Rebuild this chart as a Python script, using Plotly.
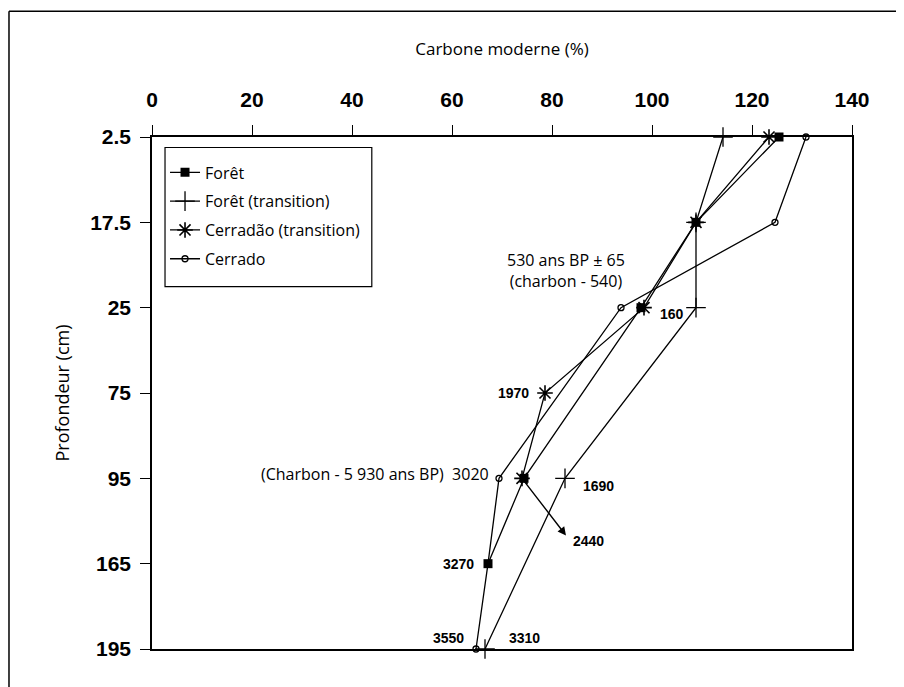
import plotly.graph_objects as go

# ---------------- data ----------------
depth_labels = ["2.5", "17.5", "25", "75", "95", "165", "195"]
depth_idx = list(range(len(depth_labels)))

foret = [125.4, 108.8, 97.8, None, 74.4, 67.2, None]
foret_transition = [114.2, 108.8, 108.8, None, 82.6, None, 66.6]
cerradao_transition = [123.4, 108.8, 98.4, 78.6, 74.0, None, None]
cerrado = [130.8, 124.6, 93.8, None, 69.4, 67.2, 64.8]

# arrow (Cerradão, 95 cm -> 2440)
arrow_tail = (74.0, 4)
arrow_tip = (82.8, 4.67)

x_ticks = [0, 20, 40, 60, 80, 100, 120, 140]

# ---------------- figure ----------------
fig = go.Figure()

line = dict(color="black", width=1.3)
series = [
    ("Forêt", foret, dict(symbol="square", size=9, color="black")),
    ("Forêt (transition)", foret_transition,
     dict(symbol="cross-thin-open", size=14, color="black", line=dict(color="black", width=1.3))),
    ("Cerradão (transition)", cerradao_transition,
     dict(symbol="asterisk-open", size=13, color="black", line=dict(color="black", width=1.6))),
    ("Cerrado", cerrado,
     dict(symbol="circle-open", size=6, color="black", line=dict(color="black", width=1.3))),
]
for i, (name, vals, mk) in enumerate(series):
    fig.add_trace(go.Scatter(
        x=vals, y=depth_idx, name=name, mode="lines+markers",
        connectgaps=True, line=line, marker=mk, cliponaxis=False,
        legendgroup=f"g{i}",
    ))

num_font = dict(family="Liberation Sans", size=14, color="black", weight="bold")
txt_font = dict(family="Open Sans", size=16, color="black")

annotations = []
def lab(text, x, y, xanchor, xshift, yshift, font=num_font, yanchor="middle", align="left"):
    annotations.append(dict(text=text, x=x, y=y, xref="x", yref="y", showarrow=False,
                            xanchor=xanchor, yanchor=yanchor, xshift=xshift, yshift=yshift,
                            font=font, align=align))

lab("160", cerradao_transition[2], 2, "left", 14, -6)
lab("1970", cerradao_transition[3], 3, "right", -14, 0)
lab("(Charbon - 5 930 ans BP)  3020", cerrado[4], 4, "right", -8, 4, font=txt_font)
lab("1690", foret_transition[4], 4, "left", 16, -8)
lab("2440", arrow_tip[0], arrow_tip[1], "left", 5, -5)
lab("3270", foret[5], 5, "right", -12, 0)
lab("3550", cerrado[6], 6, "right", -10, 11)
lab("3310", foret_transition[6], 6, "left", 22, 11)
lab("530 ans BP ± 65<br>(charbon - 540)", foret[2], 2, "right", -14, 14,
    font=txt_font, yanchor="bottom", align="center")

annotations.append(dict(
    x=arrow_tip[0], y=arrow_tip[1], ax=arrow_tail[0], ay=arrow_tail[1],
    xref="x", yref="y", axref="x", ayref="y", text="", showarrow=True,
    arrowhead=2, arrowsize=1.2, arrowwidth=1.4, arrowcolor="black", standoff=0,
))

fig.update_layout(
    width=896, height=679,
    margin=dict(l=144, r=52, t=129, b=38),
    paper_bgcolor="white", plot_bgcolor="white",
    annotations=annotations,
    showlegend=True,
    legend=dict(
        x=0.0186, y=0.964, xanchor="left", yanchor="top",
        borderwidth=0, bgcolor="rgba(0,0,0,0)",
        font=dict(family="Open Sans", size=16, color="black"),
        tracegroupgap=5, itemwidth=30,
    ),
    xaxis=dict(
        side="top", range=[0, 140], tickvals=x_ticks,
        ticktext=[str(v) for v in x_ticks],
        showline=True, linecolor="black", linewidth=1.5, mirror=True,
        ticks="outside", ticklen=10, tickcolor="black", tickwidth=1,
        showgrid=False, zeroline=False, ticklabelstandoff=10,
        tickfont=dict(family="Liberation Sans", size=21, color="black", weight="bold"),
        title=dict(text="Carbone moderne (%)", standoff=28,
                   font=dict(family="Open Sans", size=17, color="black")),
    ),
    yaxis=dict(
        range=[6, 0], tickvals=depth_idx, ticktext=depth_labels,
        showline=True, linecolor="black", linewidth=1.5, mirror=True,
        ticks="outside", ticklen=10, tickcolor="black", tickwidth=1,
        showgrid=False, zeroline=False, ticklabelstandoff=5,
        tickfont=dict(family="Liberation Sans", size=21, color="black", weight="bold"),
        title=dict(text="Profondeur (cm)", standoff=16,
                   font=dict(family="Open Sans", size=18, color="black")),
    ),
    shapes=[
        # legend frame
        dict(type="rect", xref="paper", yref="paper", x0=0.0186, x1=0.314, y0=0.7077, y1=0.9795,
             line=dict(color="black", width=1.2), fillcolor="rgba(0,0,0,0)", layer="below"),
        # outer frame
        dict(type="line", xref="paper", yref="paper", x0=-0.2043, x1=-0.2043, y0=1.2454, y1=-0.2,
             line=dict(color="black", width=1.5)),
        dict(type="line", xref="paper", yref="paper", x0=-0.2043, x1=1.2, y0=1.2454, y1=1.2454,
             line=dict(color="black", width=1.5)),
    ],
)

fig.write_html("out.html")
